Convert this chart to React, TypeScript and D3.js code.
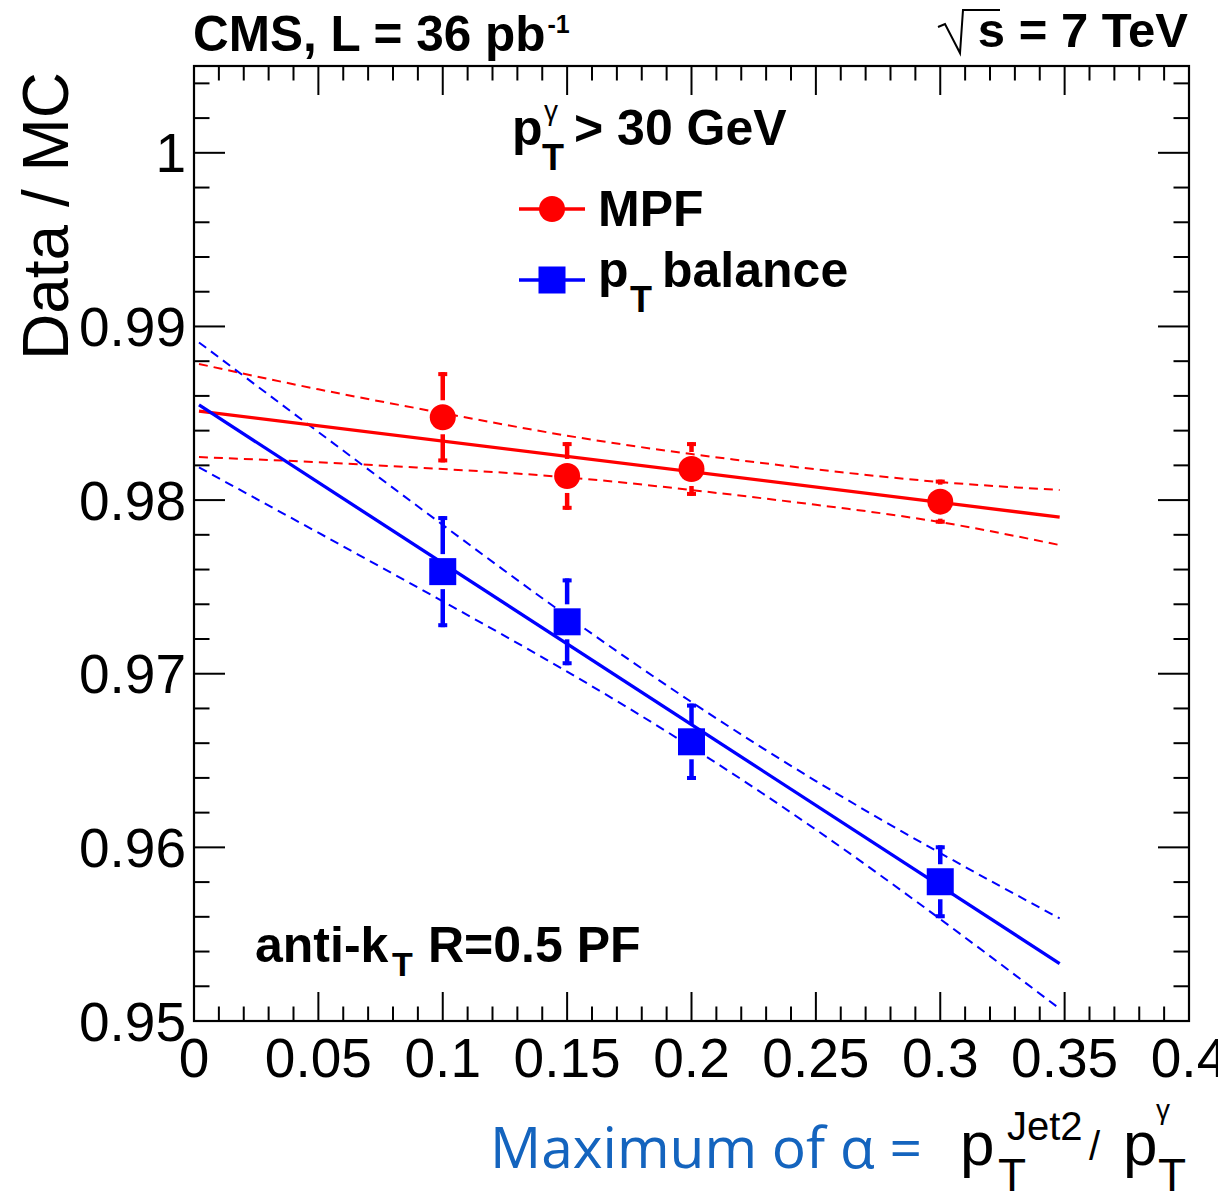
import React from 'react';
import * as d3 from 'd3';

// ---- data ----
const alphaPoints = [0.1, 0.15, 0.2, 0.3];
const mpfValues = [0.98477, 0.98139, 0.98179, 0.97991];
const mpfErrors = [0.0026, 0.00195, 0.00155, 0.00127];
const ptbValues = [0.97588, 0.97299, 0.96608, 0.95802];
const ptbErrors = [0.0032, 0.0025, 0.0022, 0.0021];

const fitRange = [0.002, 0.348];
const mpfFit = [0.98513, 0.97902];
const ptbFit = [0.98548, 0.95331];

const bandX = [0.002, 0.05, 0.1, 0.15, 0.2, 0.25, 0.3, 0.348];
const mpfBandUp = [0.98784, 0.98638, 0.98501, 0.98371, 0.98265, 0.98177, 0.98104, 0.98058];
const mpfBandLo = [0.98248, 0.98218, 0.98179, 0.98131, 0.98058, 0.97973, 0.97873, 0.97741];
const ptbBandUp = [0.98908, 0.98392, 0.97857, 0.97332, 0.96837, 0.96382, 0.95967, 0.95591];
const ptbBandLo = [0.98188, 0.97812, 0.97417, 0.97012, 0.96577, 0.96102, 0.95587, 0.95071];

const xTicks = [0, 0.05, 0.1, 0.15, 0.2, 0.25, 0.3, 0.35, 0.4];
const xTickLabels = ['0', '0.05', '0.1', '0.15', '0.2', '0.25', '0.3', '0.35', '0.4'];
const yTicks = [0.95, 0.96, 0.97, 0.98, 0.99, 1.0];
const yTickLabels = ['0.95', '0.96', '0.97', '0.98', '0.99', '1'];

const RED = '#ff0000';
const BLUE = '#0000ff';
const FONT = "'Liberation Sans', Arial, Helvetica, sans-serif";

export default function App() {
  const W = 1218, H = 1195;
  const L = 194, R = 1189, T = 66, B = 1021;
  const x = d3.scaleLinear().domain([0, 0.4]).range([L, R]);
  const y = d3.scaleLinear().domain([0.95, 1.005]).range([B, T]);

  const xMinor = d3.range(0, 41).map((i) => i * 0.01).filter((v) => v <= 0.4 + 1e-9);
  const yMinor = d3.range(0, 28).map((i) => 0.95 + i * 0.002).filter((v) => v < 1.005 - 1e-9);
  const isMajorX = (v: number) => xTicks.some((t) => Math.abs(t - v) < 1e-9);
  const isMajorY = (v: number) => yTicks.some((t) => Math.abs(t - v) < 1e-9);

  const bandLine = d3
    .line<number>()
    .x((_, i) => x(bandX[i]))
    .y((d) => y(d))
    .curve(d3.curveNatural);

  const fitLine = (vals: number[]) =>
    d3.line<number>().x((_, i) => x(fitRange[i])).y((d) => y(d))(vals) || '';

  const errBars = (vals: number[], errs: number[], color: string, half: number, key: string) =>
    alphaPoints.map((a, i) => {
      const cx = x(a);
      const cy = y(vals[i]);
      const top = y(vals[i] + errs[i]);
      const bot = y(vals[i] - errs[i]);
      const gap = half + 4;
      const els: any[] = [];
      if (top < cy - gap) {
        els.push(<line key={key + 't' + i} x1={cx} x2={cx} y1={cy - gap} y2={top} stroke={color} strokeWidth={4.5} />);
      }
      els.push(<rect key={key + 'tc' + i} x={cx - 4.5} y={top} width={9} height={4} fill={color} />);
      if (bot > cy + gap) {
        els.push(<line key={key + 'b' + i} x1={cx} x2={cx} y1={cy + gap} y2={bot} stroke={color} strokeWidth={4.5} />);
      }
      els.push(<rect key={key + 'bc' + i} x={cx - 4.5} y={bot - 4} width={9} height={4} fill={color} />);
      return els;
    });

  return (
    <svg
      width={W}
      height={H}
      viewBox={`0 0 ${W} ${H}`}
      style={{ position: 'absolute', left: 0, top: 0, background: '#fff' }}
      fontFamily={FONT}
    >
      <rect x={0} y={0} width={W} height={H} fill="#fff" />

      {/* bands */}
      <path d={bandLine(mpfBandUp) || ''} fill="none" stroke={RED} strokeWidth={2} strokeDasharray="9 6" />
      <path d={bandLine(mpfBandLo) || ''} fill="none" stroke={RED} strokeWidth={2} strokeDasharray="9 6" />
      <path d={bandLine(ptbBandUp) || ''} fill="none" stroke={BLUE} strokeWidth={2} strokeDasharray="9 6" />
      <path d={bandLine(ptbBandLo) || ''} fill="none" stroke={BLUE} strokeWidth={2} strokeDasharray="9 6" />

      {/* fits */}
      <path d={fitLine(mpfFit)} fill="none" stroke={RED} strokeWidth={3.3} />
      <path d={fitLine(ptbFit)} fill="none" stroke={BLUE} strokeWidth={3.3} />

      {/* error bars */}
      {errBars(mpfValues, mpfErrors, RED, 13, 'm')}
      {errBars(ptbValues, ptbErrors, BLUE, 13.5, 'p')}

      {/* markers */}
      {alphaPoints.map((a, i) => (
        <circle key={'mc' + i} cx={x(a)} cy={y(mpfValues[i])} r={13} fill={RED} />
      ))}
      {alphaPoints.map((a, i) => (
        <rect key={'ps' + i} x={x(a) - 13.5} y={y(ptbValues[i]) - 13.5} width={27} height={27} fill={BLUE} />
      ))}

      {/* ticks */}
      {xMinor.map((v, i) => {
        const len = isMajorX(v) ? 29 : 14.5;
        return (
          <g key={'xt' + i} stroke="#000" strokeWidth={2}>
            <line x1={x(v)} x2={x(v)} y1={B} y2={B - len} />
            <line x1={x(v)} x2={x(v)} y1={T} y2={T + len} />
          </g>
        );
      })}
      {yMinor.map((v, i) => {
        const len = isMajorY(v) ? 31 : 15.5;
        return (
          <g key={'yt' + i} stroke="#000" strokeWidth={2}>
            <line x1={L} x2={L + len} y1={y(v)} y2={y(v)} />
            <line x1={R} x2={R - len} y1={y(v)} y2={y(v)} />
          </g>
        );
      })}

      {/* frame */}
      <rect x={L} y={T} width={R - L} height={B - T} fill="none" stroke="#000" strokeWidth={2.2} />

      {/* tick labels */}
      {xTicks.map((v, i) => (
        <text key={'xl' + i} x={x(v)} y={1077} fontSize={55} textAnchor="middle" fill="#000">
          {xTickLabels[i]}
        </text>
      ))}
      {yTicks.map((v, i) => (
        <text key={'yl' + i} x={186} y={y(v) + 19.5} fontSize={55} textAnchor="end" fill="#000">
          {yTickLabels[i]}
        </text>
      ))}

      {/* y title */}
      <text transform="translate(68,72) rotate(-90)" fontSize={64} textAnchor="end" fill="#000">
        Data / MC
      </text>

      {/* x title */}
      <text x={490} y={1168} fontSize={56} fill="#1464be" fontFamily="'Open Sans', 'Noto Sans', sans-serif" textLength={432} lengthAdjust="spacingAndGlyphs">
        Maximum of α =
      </text>
      <g fill="#000">
        <text x={960} y={1165} fontSize={62}>p</text>
        <text x={998} y={1191} fontSize={46}>T</text>
        <text x={1007} y={1140} fontSize={40}>Jet2</text>
        <text x={1089} y={1160} fontSize={40}>/</text>
        <text x={1123} y={1165} fontSize={62}>p</text>
        <text x={1156} y={1119} fontSize={28}>γ</text>
        <text x={1158} y={1191} fontSize={46}>T</text>
      </g>

      {/* top labels */}
      <g fontWeight="bold" fill="#000">
        <text x={193} y={51} fontSize={49.5}>
          CMS, L = 36 pb<tspan dy={-18} dx={2} fontSize={25}>-1</tspan>
        </text>
        <text x={1188} y={47} fontSize={49} textAnchor="end">s = 7 TeV</text>
      </g>
      <path d="M 938 27 L 945 24 L 960 53 L 963 10 L 1000 10" fill="none" stroke="#000" strokeWidth={2} />

      {/* legend */}
      <g fontWeight="bold" fill="#000">
        <text x={512} y={145} fontSize={50}>p</text>
        <text x={542} y={170} fontSize={36}>T</text>
        <text x={544} y={120} fontSize={28} fontWeight="normal">γ</text>
        <text x={574} y={145} fontSize={50}>&gt; 30 GeV</text>

        <text x={598} y={226} fontSize={50}>MPF</text>
        <text x={598} y={287} fontSize={50}>p</text>
        <text x={630} y={312} fontSize={36}>T</text>
        <text x={662} y={287} fontSize={50}>balance</text>

        <text x={255} y={962} fontSize={50}>anti-k</text>
        <text x={392} y={976} fontSize={34}>T</text>
        <text x={428} y={962} fontSize={50}>R=0.5 PF</text>
      </g>
      <line x1={519} x2={585} y1={209} y2={209} stroke={RED} strokeWidth={3.3} />
      <circle cx={552} cy={209} r={13} fill={RED} />
      <line x1={519} x2={585} y1={280} y2={280} stroke={BLUE} strokeWidth={3.3} />
      <rect x={538.5} y={266.5} width={27} height={27} fill={BLUE} />
    </svg>
  );
}
